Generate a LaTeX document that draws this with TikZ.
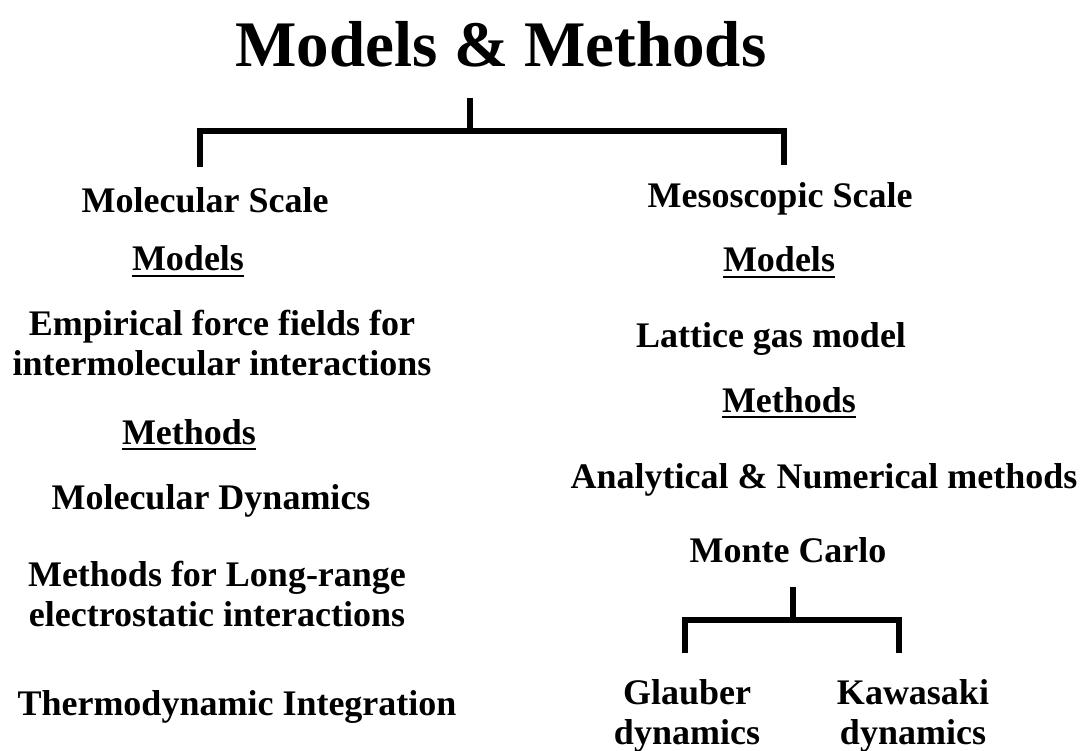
\documentclass[tikz,border=0pt]{standalone}
\usepackage{fontspec}
\setmainfont{Liberation Serif}
\usepackage{tikz}

\newlength\ulwidth
\newcommand{\ulhead}[1]{\settowidth{\ulwidth}{#1}\rlap{\rule[-6.2pt]{\ulwidth}{2.4pt}}#1}

\begin{document}
\begin{tikzpicture}[x=1pt, y=-1pt,
    every node/.style={inner sep=0pt, anchor=base, align=center, font=\bfseries\fontsize{36}{40}\selectfont},
    bracket/.style={draw, line width=6.3pt}]
    \useasboundingbox (0,0) rectangle (1082,751);

    \node[font=\bfseries\fontsize{65}{70}\selectfont] (title) at (501,67) {Models \& Methods};

    % left column (two-line nodes sit on their last baseline)
    \node (molscale) at (205,213) {Molecular Scale};
    \node (molmodels) at (188,271) {\ulhead{Models}};
    \node (empirical) at (222,376) {Empirical force fields for\\intermolecular interactions};
    \node (molmethods) at (189,444) {\ulhead{Methods}};
    \node (moldyn) at (211,509) {Molecular Dynamics};
    \node (longrange) at (217,626) {Methods for Long-range\\electrostatic interactions};
    \node (thermo) at (237,715) {Thermodynamic Integration};

    % right column
    \node (mesoscale) at (780,208) {Mesoscopic Scale};
    \node (mesomodels) at (779,272) {\ulhead{Models}};
    \node (lattice) at (771,348) {Lattice gas model};
    \node (mesomethods) at (789,412) {\ulhead{Methods}};
    \node (analytic) at (824,488) {Analytical \& Numerical methods};
    \node (montecarlo) at (788,562) {Monte Carlo};
    \node (glauber) at (687,744) {Glauber\\dynamics};
    \node (kawasaki) at (913,744) {Kawasaki\\dynamics};

    \coordinate (topstem) at (470,98);
    \coordinate (topjoin) at (470,131);
    \coordinate (molleg) at (200,167);
    \coordinate (mesoleg) at (784,165);
    \draw[bracket] (topstem) -- (topjoin);
    \draw[bracket] (molleg) |- (topjoin) -| (mesoleg);

    \coordinate (mcstem) at (793,587);
    \coordinate (mcjoin) at (793,620);
    \coordinate (glleg) at (685,653);
    \coordinate (kwleg) at (899,653);
    \draw[bracket, line width=6pt] (mcstem) -- (mcjoin);
    \draw[bracket, line width=6pt] (glleg) |- (mcjoin) -| (kwleg);
\end{tikzpicture}
\end{document}
